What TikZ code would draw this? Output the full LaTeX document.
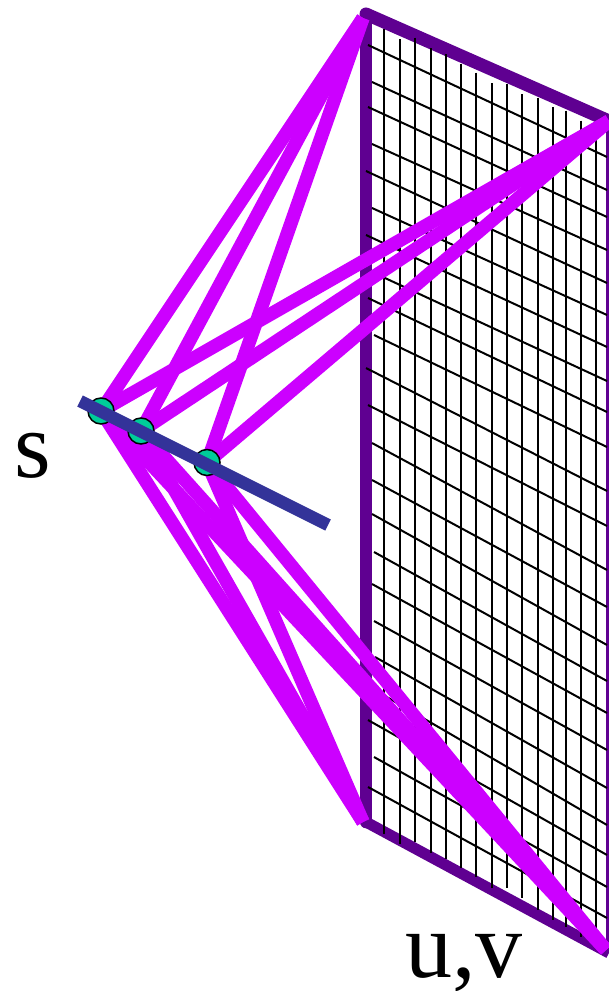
\documentclass[tikz,border=0pt]{standalone}
\usepackage{fontspec}
\setmainfont{Liberation Serif}
\definecolor{frameviolet}{HTML}{5F0091}
\definecolor{raymag}{HTML}{CC00FF}
\definecolor{camgreen}{HTML}{00CC99}
\definecolor{camblue}{HTML}{333399}
\tikzset{
  framebar/.style={draw=frameviolet,line width=#1},
  gridline/.style={draw=black,line width=2pt},
  ray/.style={draw=raymag,line width=13.5pt},
  sample/.style={circle,draw=black,line width=1.5pt,fill=camgreen,minimum size=26pt,inner sep=0pt},
  camline/.style={draw=camblue,line width=12.5pt},
  biglabel/.style={inner sep=0pt,font=\fontsize{94}{94}\selectfont,text=black}
}
\begin{document}
\begin{tikzpicture}[x=1pt,y=-1pt]
\useasboundingbox (0,0) rectangle (609,991);
\clip (0,0) rectangle (609,991);
% corners of the uv plane
\coordinate (tl) at (366,14);
\coordinate (tr) at (609,121);
\coordinate (bl) at (366,822);
\coordinate (br) at (609,953);
% frame
\draw[framebar=12.5pt,line cap=round] (tl) -- (bl);
\draw[framebar=13pt,line cap=round] (tl) -- (tr);
\draw[framebar=11pt] (bl) -- (br);
\draw[framebar=5.5pt] (tr) -- (br);
% grid: vertical lines
\foreach \gx/\gt/\gb in {384.3/29.3/834.3,400/39.3/844.3,415.3/37.7/842.3,430.7/48.3/852.7,446/54.3/858.7,461.3/64/868.3,476.3/72.7/877.3,491.7/83/887.7,507.3/84/888.3,522.3/94/898.3,537.7/97.7/910,553.3/107.3/920,565.7/110.7/926.7,581.3/120.7/936.7,595.5/133/945}
  \draw[gridline] (\gx,\gt) -- (\gx,\gb);
% grid: slanted lines
\foreach \gx/\gl/\gr in {368/45/157,372/82/190,368/107/217,372/144/250,366/171/283,372/208/315,366/235/347,372/272/381,368/298/412,374/335/447,366/368/491,368/405/526,372/443/570,372/480/607,372/514/645,374/552/681,372/584/713,374/621/750,375/657/788,373/689/825,368/720/855,374/757/887,368/787/918}
  \draw[gridline] (\gx,\gl) -- (607,\gr);
% samples on the s line
\coordinate (s1) at (101,411);
\coordinate (s2) at (141,431);
\coordinate (s3) at (207,462.5);
% ray targets
\coordinate (t1) at (363,18);
\coordinate (t2) at (609,121);
\coordinate (t3) at (363,822);
\coordinate (t4) at (606,950);
% rays
\foreach \src in {s1,s2,s3}
  \foreach \dst in {t1,t2,t3,t4}
    \draw[ray] (\src) -- (\dst);
% sample discs
\node[sample] (n1) at (s1) {};
\node[sample] (n2) at (s2) {};
\node[sample] (n3) at (s3) {};
% camera line
\coordinate (c1) at (80,401);
\coordinate (c2) at (328,525);
\draw[camline] (c1) -- (c2);
% labels
\node[biglabel,anchor=base west] (lbs) at (14,477) {s};
\node[biglabel,anchor=base west] (lbuv) at (405,977) {u,v};
\end{tikzpicture}
\end{document}
